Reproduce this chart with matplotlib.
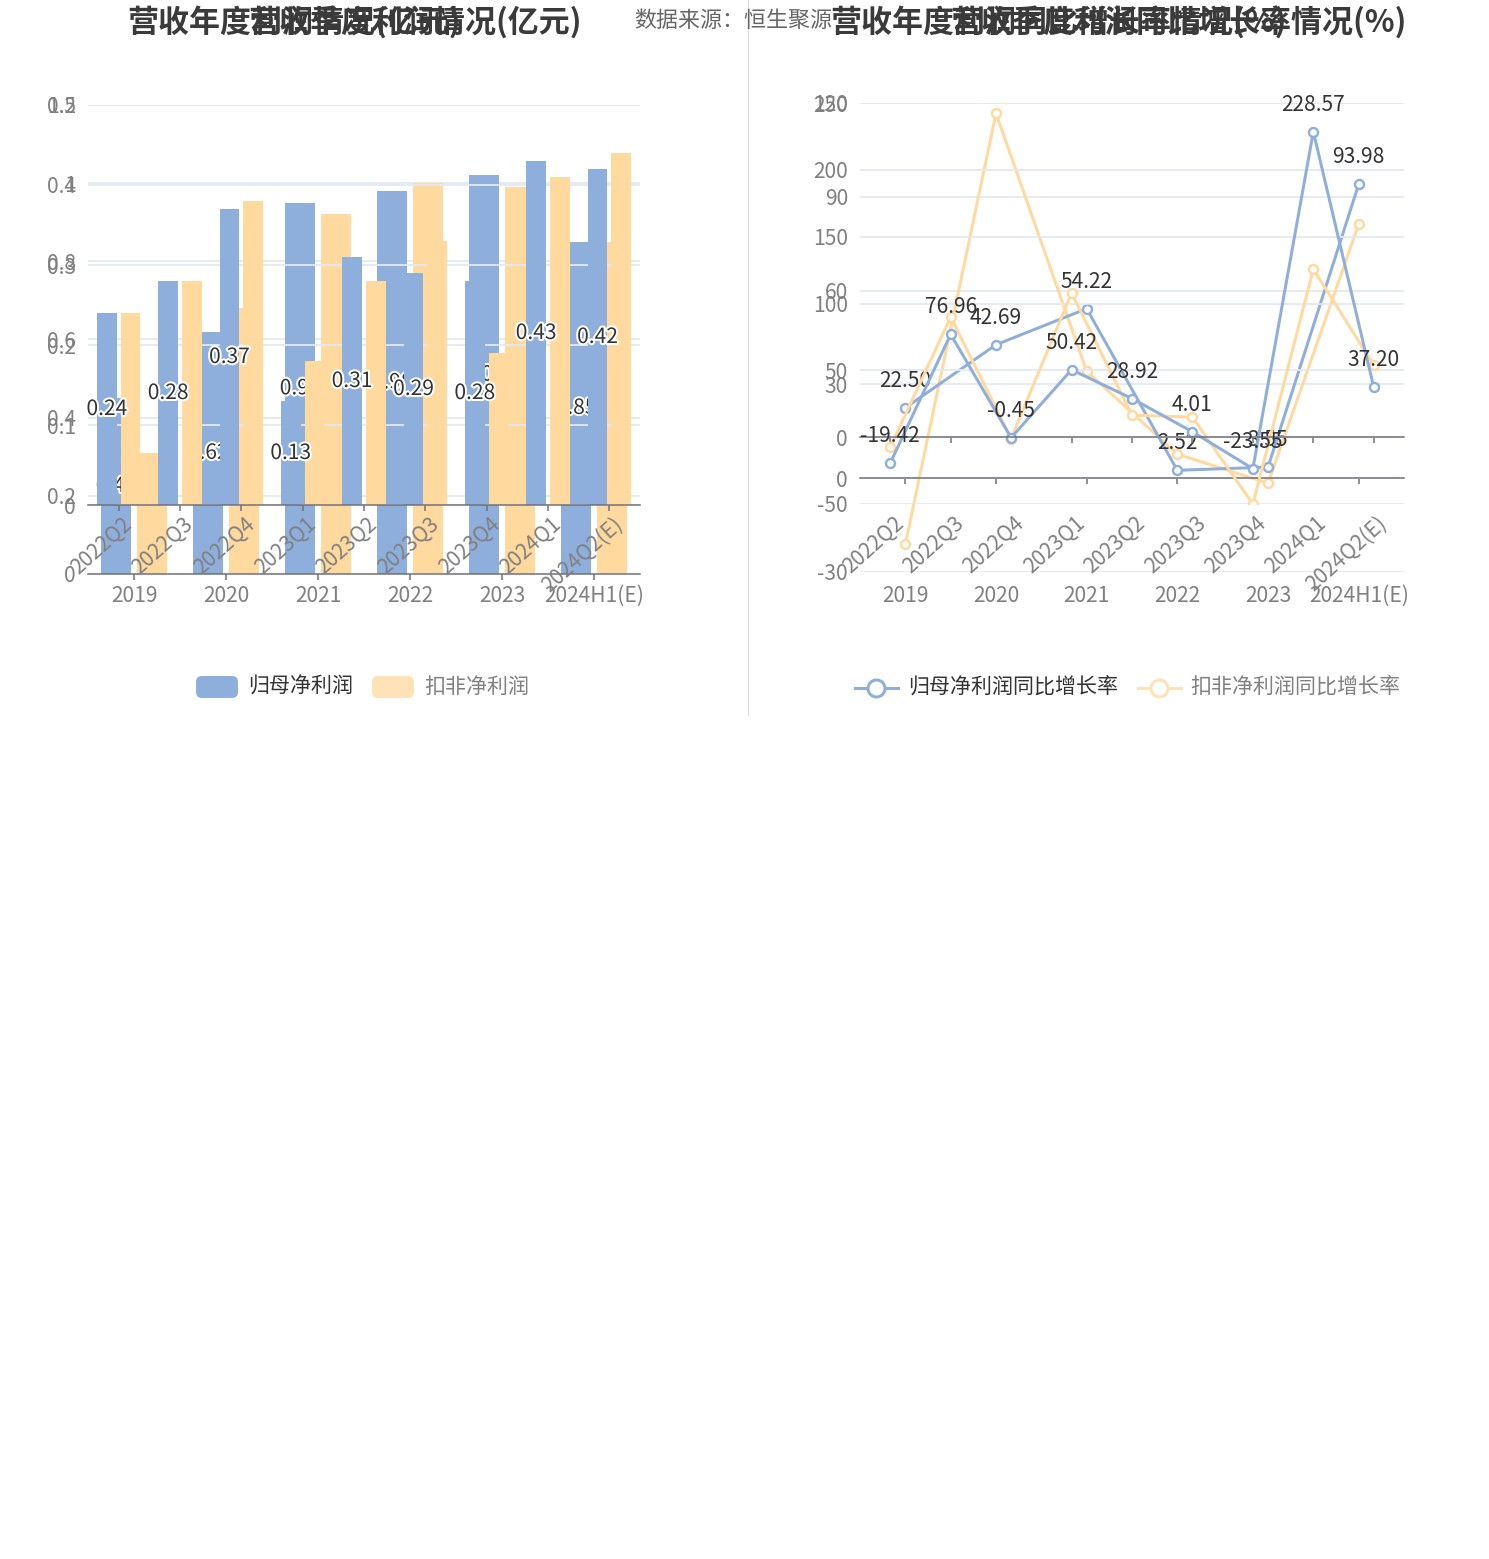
import numpy as np
import matplotlib
matplotlib.use("Agg")
import matplotlib.pyplot as plt
import matplotlib.patheffects as pe
from matplotlib.patches import FancyBboxPatch
from matplotlib.lines import Line2D

plt.rcParams['font.family'] = ['Noto Sans CJK SC', 'DejaVu Sans']

W, H = 1489, 1559

years = ['2019', '2020', '2021', '2022', '2023', '2024H1(E)']
quarters = ['2022Q2', '2022Q3', '2022Q4', '2023Q1', '2023Q2',
            '2023Q3', '2023Q4', '2024Q1', '2024Q2(E)']

# 利润 (亿元)
year_np = [0.45, 0.62, 0.95, 0.98, 1.02, 0.85]
year_np_ded = [0.31, 0.68, 0.92, 1.00, 0.99, 0.85]
qtr_np = [0.24, 0.28, 0.37, 0.13, 0.31, 0.29, 0.28, 0.43, 0.42]
qtr_np_ded = [0.24, 0.28, 0.38, 0.18, 0.28, 0.33, 0.19, 0.41, 0.44]

# 同比增长率 (%)
year_yoy = [22.50, 42.69, 54.22, 2.52, 3.55, 93.98]
year_yoy_ded = [-21.1, 116.7, 34.2, 7.7, -1.6, 81.2]
qtr_yoy = [-19.42, 76.96, -0.45, 50.42, 28.92, 4.01, -23.55, 228.57, 37.20]
qtr_yoy_ded = [-7.5, 89.8, -1.0, 107.8, 16.5, 15.0, -50.1, 125.7, 53.9]

BLUE = '#8EAEDB'
ORANGE = '#FFD99E'
ORANGE_LEG = '#FFE3B6'
GRID = '#E3E8F2'
AXIS = '#6E7079'
GRAY = '#808080'
DARK = '#333333'


def px(v):
    # pixels -> points at dpi 100
    return v * 0.72


def fy(y):
    return 1 - y / H


def rect(x0, y0, x1, y1):
    return [x0 / W, 1 - y1 / H, (x1 - x0) / W, (y1 - y0) / H]


fig = plt.figure(figsize=(W / 100, H / 100), dpi=100)


def make_ax(box, n, ylim, yticks, ylabels, zero_spine=False):
    ax = fig.add_axes(rect(*box))
    ax.patch.set_visible(False)
    ax.set_xlim(-0.5, n - 0.5)
    ax.set_ylim(*ylim)
    for s in ['top', 'right', 'left']:
        ax.spines[s].set_visible(False)
    ax.spines['bottom'].set_color(AXIS)
    ax.spines['bottom'].set_linewidth(px(1.5))
    if zero_spine:
        ax.spines['bottom'].set_position(('data', 0))
    ax.set_yticks(yticks, ylabels)
    ax.tick_params(axis='y', length=0, pad=px(12), labelsize=px(21),
                   labelcolor=GRAY)
    ax.set_xticks(range(n), [''] * n)
    ax.tick_params(axis='x', length=px(6), width=px(1.5), color=AXIS,
                   direction='out')
    ax.yaxis.grid(True, color=GRID, lw=px(1.8))
    ax.set_axisbelow(True)
    return ax


def year_labels(ax, off):
    for i, lab in enumerate(years):
        ax.annotate(lab, (i, 0), xycoords=('data', 'axes fraction'),
                    xytext=(0, -px(off)), textcoords='offset points',
                    ha='center', va='center', fontsize=px(21), color=GRAY)


def quarter_labels(ax):
    for i, lab in enumerate(quarters):
        ax.annotate(lab, (i, 0), xycoords=('data', 'axes fraction'),
                    xytext=(px(3), -px(8)), textcoords='offset points',
                    rotation=42, rotation_mode='anchor', ha='right', va='top',
                    fontsize=px(21), color=GRAY)


stroke = [pe.withStroke(linewidth=px(4), foreground='white')]

# ---------------- left: profit bars ----------------
bw, off = 0.32, 0.195

ax_y = make_ax((88, 105, 640, 574), len(years), (0, 1.2),
               [0, 0.2, 0.4, 0.6, 0.8, 1.0, 1.2],
               ['0', '0.2', '0.4', '0.6', '0.8', '1', '1.2'])
xy = np.arange(len(years))
ax_y.bar(xy - off, year_np, bw, color=BLUE)
ax_y.bar(xy + off, year_np_ded, bw, color=ORANGE)
for i, v in enumerate(year_np):
    ax_y.text(i - off, v / 2, f'{v:.2f}', ha='center', va='center',
              fontsize=px(21), color=DARK, path_effects=stroke)
year_labels(ax_y, 22)

ax_q = make_ax((88, 105, 640, 505), len(quarters), (0, 0.5),
               [0, 0.1, 0.2, 0.3, 0.4, 0.5],
               ['0', '0.1', '0.2', '0.3', '0.4', '0.5'])
xq = np.arange(len(quarters))
ax_q.bar(xq - off, qtr_np, bw, color=BLUE)
ax_q.bar(xq + off, qtr_np_ded, bw, color=ORANGE)
for i, v in enumerate(qtr_np):
    ax_q.text(i - off, v / 2, f'{v:.2f}', ha='center', va='center',
              fontsize=px(21), color=DARK, path_effects=stroke)
quarter_labels(ax_q)

# ---------------- right: growth lines ----------------
line_kw = dict(lw=px(3), marker='o', ms=px(9), mfc='white', mew=px(2.4))

ax_gy = make_ax((860, 103, 1404, 572), len(years), (-30, 120),
                [-30, 0, 30, 60, 90, 120],
                ['-30', '0', '30', '60', '90', '120'], zero_spine=True)
ax_gy.plot(xy, year_yoy_ded, color=ORANGE, mec=ORANGE, **line_kw)
ax_gy.plot(xy, year_yoy, color=BLUE, mec=BLUE, **line_kw)
for i, v in enumerate(year_yoy):
    ax_gy.annotate(f'{v:.2f}', (i, v), xytext=(0, px(27)),
                   textcoords='offset points', ha='center', va='center',
                   fontsize=px(21), color=DARK)
year_labels(ax_gy, 24)

ax_gq = make_ax((860, 103, 1404, 504), len(quarters), (-50, 250),
                [-50, 0, 50, 100, 150, 200, 250],
                ['-50', '0', '50', '100', '150', '200', '250'],
                zero_spine=True)
ax_gq.plot(xq, qtr_yoy_ded, color=ORANGE, mec=ORANGE, **line_kw)
ax_gq.plot(xq, qtr_yoy, color=BLUE, mec=BLUE, **line_kw)
for i, v in enumerate(qtr_yoy):
    ax_gq.annotate(f'{v:.2f}', (i, v), xytext=(0, px(27)),
                   textcoords='offset points', ha='center', va='center',
                   fontsize=px(21), color=DARK)
quarter_labels(ax_gq)

# ---------------- titles / source ----------------
fig.text(634 / W, fy(21), '数据来源：恒生聚源', ha='left', va='center',
         fontsize=px(22), color='#666666')
title_kw = dict(va='center', fontsize=px(31), fontweight='bold', color='#3A3A3A')
fig.text(127 / W, fy(22), '营收年度利润情况(亿元)', ha='left', **title_kw)
fig.text(582 / W, fy(22), '营收季度利润情况(亿元)', ha='right', **title_kw)
fig.text(830 / W, fy(22), '营收年度利润同比增长率情况(%)', ha='left', **title_kw)
fig.text(1407 / W, fy(22), '营收季度利润同比增长率情况(%)', ha='right', **title_kw)

# divider
fig.add_artist(Line2D([748 / W, 748 / W], [fy(0), fy(715)],
                      transform=fig.transFigure, color='#DDDDDD', lw=px(1.2)))

# ---------------- legends ----------------
def leg_box(x0, color):
    fig.add_artist(FancyBboxPatch((x0 / W, fy(698)), 42 / W, 22 / H,
                                  boxstyle='round,pad=0,rounding_size=0.004',
                                  mutation_aspect=W / H,
                                  transform=fig.transFigure, color=color, lw=0))


def leg_line(x0, color):
    fig.add_artist(Line2D([x0 / W, (x0 + 43) / W], [fy(688)] * 2,
                          transform=fig.transFigure, color=color, lw=px(3)))
    fig.add_artist(Line2D([(x0 + 21) / W], [fy(688)], transform=fig.transFigure,
                          marker='o', ms=px(17), mfc='white', mec=color,
                          mew=px(3)))


leg_box(196, BLUE)
fig.text(248 / W, fy(687), '归母净利润', ha='left', va='center',
         fontsize=px(21), color=DARK)
leg_box(372, ORANGE_LEG)
fig.text(424 / W, fy(687), '扣非净利润', ha='left', va='center',
         fontsize=px(21), color=GRAY)

leg_line(855, BLUE)
fig.text(908 / W, fy(687), '归母净利润同比增长率', ha='left', va='center',
         fontsize=px(21), color=DARK)
leg_line(1138, ORANGE_LEG)
fig.text(1190 / W, fy(687), '扣非净利润同比增长率', ha='left', va='center',
         fontsize=px(21), color=GRAY)

fig.savefig('out.png', dpi=100)
